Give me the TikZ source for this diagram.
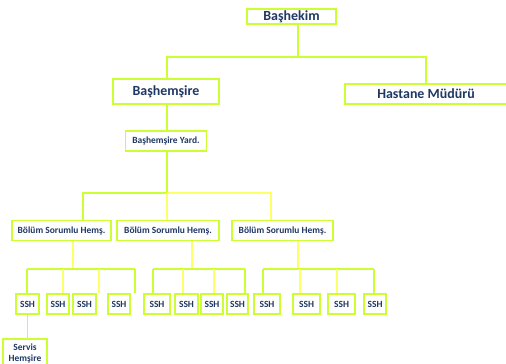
\documentclass[tikz,border=0pt]{standalone}
\usepackage{fontspec}
\setmainfont{Carlito}
\usetikzlibrary{calc}
\definecolor{limeline}{RGB}{204,255,51}
\definecolor{yelline}{RGB}{255,255,102}
\definecolor{navytext}{RGB}{31,56,100}
\tikzset{
  post/.style={draw=limeline, line width=1.8bp, fill=white, text=navytext,
    font=\bfseries\fontsize{9.5}{10}\selectfont, inner sep=0pt, align=center},
  bigpost/.style={post, font=\bfseries\fontsize{14}{15}\selectfont},
  wire/.style={draw=limeline, line width=1.3bp},
  ywire/.style={draw=yelline, line width=1.3bp},
}
% one group of SSH boxes under a Bolum box
\newcommand\sshfork[6]{
  \coordinate (h#1) at (#2,269);
  \draw[ywire] (bol#1.south -| h#1) -- (h#1);
  \foreach \x [count=\k] in {#3,#4,#5,#6}
    \coordinate (d#1\k) at (\x,269);
  \draw[wire] (d#11) -- (d#14);
  \foreach \k/\s in {1/wire,2/ywire,3/ywire,4/wire}
    \draw[\s] (d#1\k) -- (d#1\k |- s#11.north);
}

\begin{document}
\begin{tikzpicture}[x=1bp,y=-1bp]
    \useasboundingbox (0,0) rectangle (506,363);

    % top levels
    \node[bigpost, minimum width=89bp, minimum height=15bp] (bhk) at (291.5,16.5) {Başhekim};
    \node[bigpost, minimum width=106bp, minimum height=25bp] (bhs) at (166,91.5) {Başhemşire};
    \node[bigpost, minimum width=162bp, minimum height=20bp] (hm) at (426,94) {Hastane Müdürü};
    \node[post, minimum width=81bp, minimum height=20bp] (bhy) at (166,141) {Başhemşire Yard.};

    \coordinate (top) at (298,57);
    \coordinate (mid) at (167,193);
    \draw[wire] (bhk.south -| top) -- (top);
    \draw[wire] (bhs.north -| mid) |- (top) -| (hm.north);
    \draw[wire] (bhs.south -| mid) -- (bhy.north -| mid);
    \draw[wire] (bhy.south -| mid) -- (mid);

    % Bolum level
    \node[post, minimum width=99bp, minimum height=20bp] (bol1) at (61.5,230.5) {Bölüm Sorumlu Hemş.};
    \node[post, minimum width=102bp, minimum height=20bp] (bol2) at (168,230.5) {Bölüm Sorumlu Hemş.};
    \node[post, minimum width=101bp, minimum height=20bp] (bol3) at (282.5,230.5) {Bölüm Sorumlu Hemş.};

    \coordinate (f1) at (83,193);
    \coordinate (f3) at (271,193);
    \draw[wire] (bol1.north -| f1) |- (mid);
    \draw[ywire] (mid) -| (bol3.north -| f3);
    \draw[ywire] (mid) -- (bol2.north -| mid);

    % SSH row
    \foreach \i/\cx/\w in {11/27.5/23, 12/58/22, 13/84.5/23, 14/119/22,
                           21/157/26, 22/186.5/23, 23/212/22, 24/237.5/21,
                           31/267/26, 32/306.5/27, 33/341.5/27, 34/375/22}
      \node[post, minimum width=\w bp, minimum height=20bp] (s\i) at (\cx,304) {SSH};

    \sshfork{1}{73}{27}{63}{99}{135}
    \sshfork{2}{192}{153}{183}{214}{245}
    \sshfork{3}{298}{263}{300}{337}{374}

    % servis
    \node[post, minimum width=44bp, minimum height=29bp, font=\bfseries\fontsize{9.5}{11.5}\selectfont] (sh) at (25,353.5) {Servis\\Hemşire};
    \draw[wire] (s11.south) -- (s11.south |- sh.north);

\end{tikzpicture}
\end{document}
